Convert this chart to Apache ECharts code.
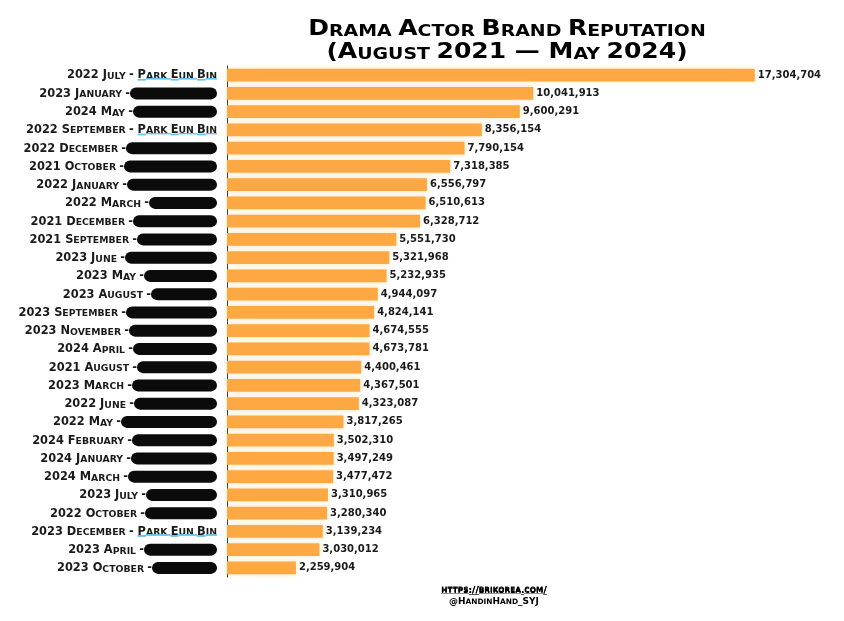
<!DOCTYPE html>
<html>
<head>
<meta charset="utf-8">
<script src="https://cdn.jsdelivr.net/npm/echarts@6/dist/echarts.min.js"></script>
<style>html,body{margin:0;padding:0;background:#fff}#c{width:844px;height:621px}</style>
</head>
<body>
<div id="c"></div>
<script>
// ---- data ----
const periods = [
  '2022 July','2023 January','2024 May','2022 September','2022 December','2021 October',
  '2022 January','2022 March','2021 December','2021 September','2023 June','2023 May',
  '2023 August','2023 September','2023 November','2024 April','2021 August','2023 March',
  '2022 June','2022 May','2024 February','2024 January','2024 March','2023 July',
  '2022 October','2023 December','2023 April','2023 October'
];
const actors = [
  'Park Eun Bin', null, null, 'Park Eun Bin', null, null,
  null, null, null, null, null, null,
  null, null, null, null, null, null,
  null, null, null, null, null, null,
  null, 'Park Eun Bin', null, null
];
const values = [
  17304704, 10041913, 9600291, 8356154, 7790154, 7318385,
  6556797, 6510613, 6328712, 5551730, 5321968, 5232935,
  4944097, 4824141, 4674555, 4673781, 4400461, 4367501,
  4323087, 3817265, 3502310, 3497249, 3477472, 3310965,
  3280340, 3139234, 3030012, 2259904
];
const titleLines = ['Drama Actor Brand Reputation', '(August 2021 \u2014 May 2024)'];
const footerLines = ['https://brikorea.com/', '@HandinHand_SYJ'];

// widths of the redaction blobs (drawing detail)
const redactWidths = [
  0, 87, 84, 0, 91, 93,
  90, 68, 84, 80, 92, 73,
  66, 91, 88, 84, 80, 85,
  83, 96, 85, 86, 89, 71,
  72, 0, 73, 65
];

// ---- helpers ----
// small-caps emulation: lowercase letters -> smaller uppercase token
function sc(str, big, small) {
  let out = '', cur = null, buf = '';
  for (const ch of str) {
    const isLower = ch >= 'a' && ch <= 'z';
    if (ch === ' ' && cur) { buf += ch; continue; }
    const t = isLower ? small : big;
    if (t !== cur) { if (buf) out += '{' + cur + '|' + buf + '}'; buf = ''; cur = t; }
    buf += isLower ? ch.toUpperCase() : ch;
  }
  if (buf) out += '{' + cur + '|' + buf + '}';
  return out;
}
function lineImg(h, thick, color) {
  const c = document.createElement('canvas');
  c.width = 4; c.height = h;
  const g = c.getContext('2d');
  g.fillStyle = color;
  g.fillRect(0, h - thick, 4, thick);
  return c;
}
const blueLine = lineImg(30, 5, '#5fc4f2');
const darkLine = lineImg(26, 2, '#555');

const FONT = 'DejaVu Sans';
const TXT = '#1a1a1a';
const CLEAR = 'rgba(0,0,0,0)';
const BIG = 11.4, SMALL = 9.3;
function tok(size, extra) {
  return Object.assign({fontFamily: FONT, fontWeight: 'bold', color: TXT, fontSize: size, lineHeight: size, verticalAlign: 'bottom'}, extra || {});
}
// main label layer (baseline aligned)
const rich = { b: tok(BIG), s: tok(SMALL) };
redactWidths.forEach((w, i) => {
  rich['k' + i] = {width: w, height: 12, lineHeight: 12, backgroundColor: '#0b0b0b', borderRadius: 6, verticalAlign: 'bottom'};
});
// underline overlay layer (same horizontal layout, transparent text)
function otok(size, bg) {
  const o = {fontFamily: FONT, fontWeight: 'bold', color: CLEAR, fontSize: size, lineHeight: 15, verticalAlign: 'middle'};
  if (bg) o.backgroundColor = {image: bg};
  return o;
}
const richU = { b: otok(BIG), s: otok(SMALL), ub: otok(BIG, blueLine), us: otok(SMALL, blueLine) };

function yLabel(value, idx) {
  if (actors[idx]) return sc(periods[idx] + ' - ', 'b', 's') + sc(actors[idx], 'b', 's');
  return sc(periods[idx] + ' -', 'b', 's') + '{k' + idx + '| }';
}
function yUnder(value, idx) {
  if (actors[idx]) return sc(periods[idx] + ' - ', 'b', 's') + sc(actors[idx], 'ub', 'us');
  return '';
}

const titleRich = {
  tb: {fontFamily: FONT, fontWeight: 'bold', fontSize: 20.5, lineHeight: 20.5, color: '#111', verticalAlign: 'bottom'},
  ts: {fontFamily: FONT, fontWeight: 'bold', fontSize: 15.5, lineHeight: 15.5, color: '#111', verticalAlign: 'bottom'}
};
const footRich = {
  fb: {fontFamily: FONT, fontWeight: 'bold', fontSize: 9, lineHeight: 9, color: '#333', verticalAlign: 'bottom'},
  fs: {fontFamily: FONT, fontWeight: 'bold', fontSize: 7.4, lineHeight: 7.4, color: '#333', verticalAlign: 'bottom'}
};
const footRichU = {
  fb: {fontFamily: FONT, fontWeight: 'bold', fontSize: 9, lineHeight: 13, color: CLEAR, verticalAlign: 'middle', backgroundColor: {image: darkLine}},
  fs: {fontFamily: FONT, fontWeight: 'bold', fontSize: 7.4, lineHeight: 13, color: CLEAR, verticalAlign: 'middle', backgroundColor: {image: darkLine}}
};

const chart = echarts.init(document.getElementById('c'), null, {renderer: 'canvas'});
chart.setOption({
  backgroundColor: '#ffffff',
  animation: false,
  graphic: [
    {type: 'text', x: 507, y: 30, scaleX: 1.22, style: {text: sc(titleLines[0], 'tb', 'ts'), rich: titleRich, align: 'center', verticalAlign: 'middle'}},
    {type: 'text', x: 507, y: 52.5, scaleX: 1.22, style: {text: sc(titleLines[1], 'tb', 'ts'), rich: titleRich, align: 'center', verticalAlign: 'middle'}},
    {type: 'text', x: 494, y: 590.5, style: {text: sc(footerLines[0], 'fb', 'fs'), rich: footRich, align: 'center', verticalAlign: 'middle'}},
    {type: 'text', x: 494, y: 590.5, style: {text: sc(footerLines[0], 'fb', 'fs'), rich: footRichU, align: 'center', verticalAlign: 'middle'}},
    {type: 'text', x: 494, y: 601.5, style: {text: sc(footerLines[1], 'fb', 'fs'), rich: footRich, align: 'center', verticalAlign: 'middle'}}
  ],
  grid: {left: 227, right: 7, top: 66, bottom: 44, containLabel: false},
  xAxis: {
    type: 'value', min: 0, max: 20000000,
    axisLine: {show: false}, axisTick: {show: false}, axisLabel: {show: false}, splitLine: {show: false}
  },
  yAxis: [{
    type: 'category', inverse: true, data: periods, position: 'left',
    axisLine: {show: true, lineStyle: {color: '#2a2a2a', width: 1}},
    axisTick: {show: false},
    axisLabel: {interval: 0, margin: 10, formatter: yLabel, rich: rich}
  }, {
    type: 'category', inverse: true, data: periods, position: 'left', offset: 0,
    axisLine: {show: false}, axisTick: {show: false}, splitLine: {show: false},
    axisLabel: {interval: 0, margin: 10, formatter: yUnder, rich: richU}
  }],
  series: [{
    type: 'bar',
    yAxisIndex: 0,
    data: values,
    barCategoryGap: '29%',
    itemStyle: {color: '#FEA843', shadowColor: 'rgba(255,205,130,0.55)', shadowBlur: 5},
    label: {
      show: true, position: 'right', distance: 3,
      formatter: p => p.value.toLocaleString('en-US'),
      fontFamily: FONT, fontWeight: 'bold', fontSize: 10, color: TXT
    }
  }]
});
</script>
</body>
</html>
